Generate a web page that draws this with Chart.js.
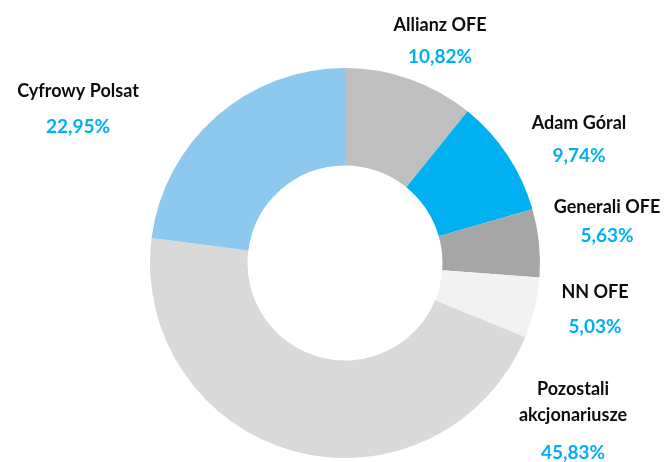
<!DOCTYPE html>
<html>
<head>
<meta charset="utf-8">
<script src="https://cdn.jsdelivr.net/npm/chart.js@4/dist/chart.umd.min.js"></script>
<style>
html,body{margin:0;padding:0;background:#fff;}
#wrap{width:665px;height:462px;position:relative;}
</style>
</head>
<body>
<div id="wrap"><canvas id="c" width="665" height="462"></canvas></div>
<script>
const categories = ["Allianz OFE", "Adam Góral", "Generali OFE", "NN OFE", "Pozostali akcjonariusze", "Cyfrowy Polsat"];
const values = [10.82, 9.74, 5.63, 5.03, 45.83, 22.95];
const valueLabels = ["10,82%", "9,74%", "5,63%", "5,03%", "45,83%", "22,95%"];
const nameLines = [["Allianz OFE"], ["Adam Góral"], ["Generali OFE"], ["NN OFE"], ["Pozostali", "akcjonariusze"], ["Cyfrowy Polsat"]];

// layout (label anchor points, pixels)
const labelLayout = [
  {x: 440, names: [25], val: 57},
  {x: 579, names: [123], val: 156},
  {x: 607, names: [207], val: 236},
  {x: 595, names: [292], val: 327},
  {x: 573, names: [389, 415], val: 453},
  {x: 78,  names: [91], val: 127}
];
const colors = ["#BFBFBF", "#00B0F0", "#A6A6A6", "#F2F2F2", "#D9D9D9", "#8DC8EE"];

const labelPlugin = {
  id: 'outLabels',
  afterDraw(chart) {
    const ctx = chart.ctx;
    ctx.save();
    ctx.textAlign = 'center';
    ctx.textBaseline = 'middle';
    labelLayout.forEach((l, i) => {
      ctx.font = 'bold 18px Lato, "Open Sans", sans-serif';
      ctx.fillStyle = '#0D0D0D';
      nameLines[i].forEach((t, j) => ctx.fillText(t, l.x, l.names[j]));
      ctx.font = 'bold 19px Lato, "Open Sans", sans-serif';
      ctx.fillStyle = '#00B0F0';
      ctx.fillText(valueLabels[i], l.x, l.val);
    });
    ctx.restore();
  }
};

new Chart(document.getElementById('c'), {
  type: 'doughnut',
  data: {
    labels: categories,
    datasets: [{
      data: values,
      backgroundColor: colors,
      borderWidth: 0,
      hoverOffset: 0
    }]
  },
  options: {
    responsive: false,
    animation: false,
    cutout: '50%',
    layout: {padding: {top: 68, bottom: 4, left: 25, right: 0}},
    plugins: {legend: {display: false}, tooltip: {enabled: false}}
  },
  plugins: [labelPlugin]
});
</script>
</body>
</html>
